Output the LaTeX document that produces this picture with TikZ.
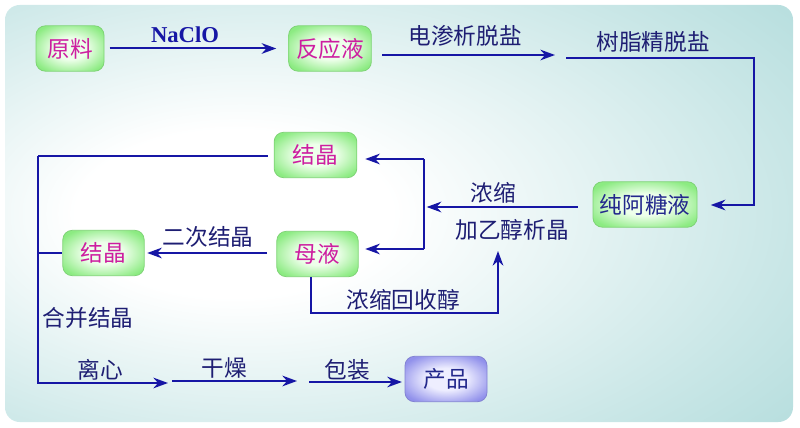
\documentclass[tikz,border=0pt]{standalone}
\usepackage{fontspec}
\setmainfont{Liberation Serif}
\newfontfamily\cjk{Noto Sans CJK SC}
\usetikzlibrary{arrows.meta}
\definecolor{ln}{RGB}{22,22,165}
\definecolor{lab}{RGB}{30,30,115}
\definecolor{mag}{RGB}{205,30,160}
\definecolor{nv}{RGB}{35,40,140}
\definecolor{bgteal}{RGB}{165,214,214}
\definecolor{gin}{RGB}{238,255,235}
\definecolor{gout}{RGB}{140,235,130}
\definecolor{pin}{RGB}{238,238,255}
\definecolor{pout}{RGB}{145,145,235}
\pgfdeclareradialshading{bgsh}{\pgfpoint{-12bp}{0bp}}{color(0bp)=(white); color(10bp)=(white); color(32bp)=(bgteal!60!white); color(48bp)=(bgteal); color(80bp)=(bgteal)}
\pgfdeclareradialshading{boxg}{\pgfpoint{0bp}{0bp}}{color(0bp)=(gin); color(12bp)=(gin); color(30bp)=(gout); color(75bp)=(gout)}
\pgfdeclareradialshading{boxp}{\pgfpoint{0bp}{0bp}}{color(0bp)=(pin); color(12bp)=(pin); color(30bp)=(pout); color(75bp)=(pout)}
\begin{document}
\begin{tikzpicture}[x=0.75pt,y=-0.75pt,
  box/.style={shade, shading=boxg, draw=gout!90!black, line width=0.6pt, rounded corners=7pt,
    minimum height=34pt, inner sep=0pt, font=\cjk\fontsize{17}{20}\selectfont, text=mag},
  lbl/.style={font=\cjk\fontsize{17}{20}\selectfont, text=lab, inner sep=0pt},
  con/.style={draw=ln, line width=1.5pt},
  arr/.style={con, -{Stealth[length=11pt,width=8pt]}}]
\useasboundingbox (0,0) rectangle (800,428);
\shade[shading=bgsh, rounded corners=11pt] (5,5) rectangle (793,422);

% boxes
\node[box, minimum width=51pt] (yl) at (70,48.5) {原料};
\node[box, minimum width=62pt] (fy) at (330,48.5) {反应液};
\node[box, minimum width=62pt] (jj1) at (315.5,155) {结晶};
\node[box, minimum width=61pt] (my) at (317.5,254) {母液};
\node[box, minimum width=61pt] (jj2) at (103.5,253) {结晶};
\node[box, minimum width=78pt, text=nv] (cat) at (645,204.5) {纯阿糖液};
\node[box, shading=boxp, draw=pout!90!black, minimum width=61.5pt, text=nv] (cp) at (446,379) {产品};

% labels
\node[lbl, font=\bfseries\fontsize{17}{20}\selectfont, text=ln] (naclo) at (185,35) {NaClO};
\node[lbl] (l1) at (465,36) {电渗析脱盐};
\node[lbl] (l2) at (653,42) {树脂精脱盐};
\node[lbl] (l3) at (493,193) {浓缩};
\node[lbl] (l4) at (512,230) {加乙醇析晶};
\node[lbl] (l5) at (403,300) {浓缩回收醇};
\node[lbl] (l6) at (208,237) {二次结晶};
\node[lbl] (l7) at (88,318) {合并结晶};
\node[lbl] (l8) at (100,370) {离心};
\node[lbl] (l9) at (224,368) {干燥};
\node[lbl] (l10) at (347,370) {包装};

% coordinates
\coordinate (d1) at (555,55);
\coordinate (d2) at (566,58);
\coordinate (d3) at (754,205);
\coordinate (j) at (424,207);
\coordinate (j1) at (424,159);
\coordinate (j2) at (424,249);
\coordinate (r1) at (311,313);
\coordinate (r2) at (498,251);
\coordinate (c1) at (38,156);
\coordinate (c2) at (38,383);
\coordinate (b1) at (168,383);
\coordinate (b2) at (172,381);
\coordinate (b3) at (297,381);
\coordinate (b4) at (309,382);

% connectors
\draw[arr, shorten <=4pt, shorten >=9pt] (yl.east) -- (fy.west);
\draw[arr, shorten <=8pt] (fy.east |- d1) -- (d1);
\draw[arr, shorten >=10pt] (d2) -| (d3) -- (cat.east |- d3);
\draw[arr, shorten <=11pt, shorten >=2pt] (cat.west |- j) -- (j);
\draw[con] (j1) -- (j2);
\draw[arr, shorten >=6pt] (j1) -- (jj1.east |- j1);
\draw[arr, shorten >=5pt] (j2) -- (my.east |- j2);
\draw[arr] (my.south -| r1) -- (r1) -| (r2);
\draw[arr, shorten <=7pt, shorten >=2pt] (my.west |- jj2.center) -- (jj2.east);
\draw[con, shorten <=4.5pt] (jj1.west |- c1) -- (c1);
\draw[con] (c1 |- jj2.center) -- (jj2.west);
\draw[arr] (c1) -- (c2) -- (b1);
\draw[arr] (b2) -- (b3);
\draw[arr, shorten >=2pt] (b4) -- (cp.west |- b4);
\end{tikzpicture}
\end{document}
